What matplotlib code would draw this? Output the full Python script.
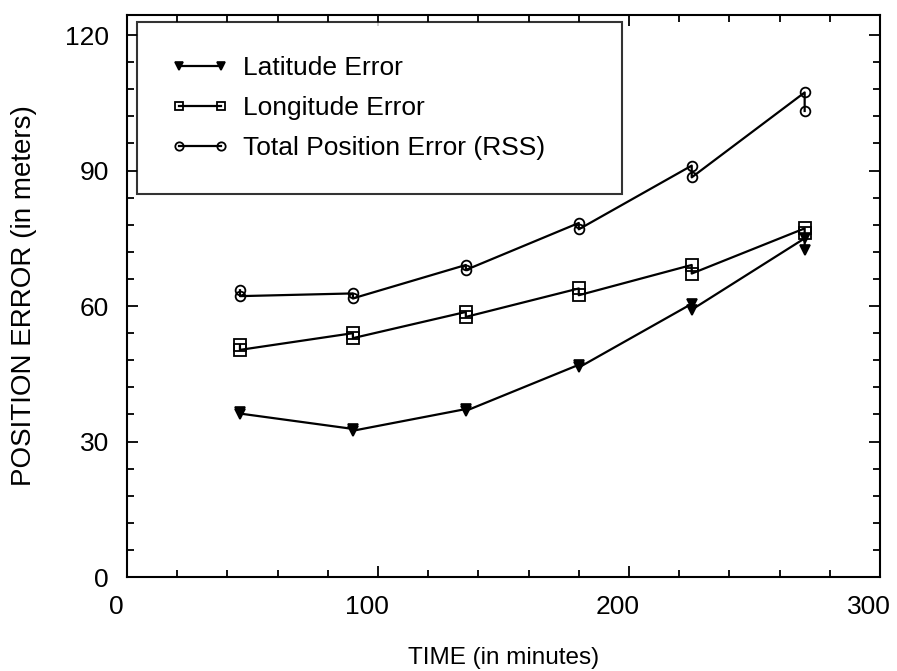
import matplotlib
matplotlib.use('Agg')
import matplotlib.pyplot as plt
import matplotlib.transforms as mtransforms
from matplotlib.ticker import MultipleLocator

plt.rcParams['font.family'] = ['Liberation Sans', 'DejaVu Sans']

# two readings at each time, drawn in order (upper, lower)
time = [45, 45, 90, 90, 135, 135, 180, 180, 225, 225, 270, 270]
lat_err = [36.6, 36.2, 32.8, 32.4, 37.2, 36.8, 47.0, 46.4, 60.5, 59.2, 75.0, 72.4]
lon_err = [51.4, 50.3, 54.0, 52.9, 58.7, 57.6, 63.9, 62.4, 69.1, 67.2, 77.2, 76.1]
tot_err = [63.5, 62.2, 62.8, 61.7, 69.1, 68.0, 78.4, 77.0, 91.1, 88.5, 107.3, 103.2]

fig = plt.figure(figsize=(8.97, 6.71), dpi=100)
ax = fig.add_axes([0.1416, 0.140, 0.8394, 0.838])

ax.plot(time, lat_err, color='black', lw=1.6, marker='v', ms=7,
        mfc='black', mec='black', mew=1.2, label='Latitude Error')
ax.plot(time, lon_err, color='black', lw=1.6, marker='s', ms=8,
        mfc='none', mec='black', mew=1.3, label='Longitude Error')
ax.plot(time, tot_err, color='black', lw=1.6, marker='o', ms=7,
        mfc='none', mec='black', mew=1.3, label='Total Position Error (RSS)')

ax.set_xlim(0, 300)
ax.set_ylim(0, 124.5)
ax.xaxis.set_major_locator(MultipleLocator(100))
ax.xaxis.set_minor_locator(MultipleLocator(20))
ax.yaxis.set_major_locator(MultipleLocator(30))
ax.yaxis.set_minor_locator(MultipleLocator(6))
ax.tick_params(which='both', direction='in', top=True, right=True,
               labelsize=19, width=1.3)
ax.tick_params(which='major', length=8, pad=13)
ax.tick_params(which='minor', length=5)
for s in ax.spines.values():
    s.set_linewidth(1.5)

# x labels sit a little left of their ticks in the original
shift = mtransforms.ScaledTranslation(-8 / 72, 0, fig.dpi_scale_trans)
for lbl in ax.get_xticklabels():
    lbl.set_transform(lbl.get_transform() + shift)

ax.set_xlabel('TIME (in minutes)', fontsize=17.5, labelpad=20)
ax.set_ylabel('POSITION ERROR (in meters)', fontsize=20, labelpad=20)

leg = ax.legend(loc='upper left', bbox_to_anchor=(0.0133, 0.9875, 0.644, 0.0),
                mode='expand', numpoints=2, fontsize=19, frameon=True,
                fancybox=False, edgecolor='black', borderpad=1.3,
                handlelength=2.2, labelspacing=0.6, handletextpad=0.5,
                borderaxespad=0)
leg.get_frame().set_linewidth(1.5)
for h in leg.legend_handles:
    h.set_markersize(6)

fig.savefig('out.png', dpi=100)
